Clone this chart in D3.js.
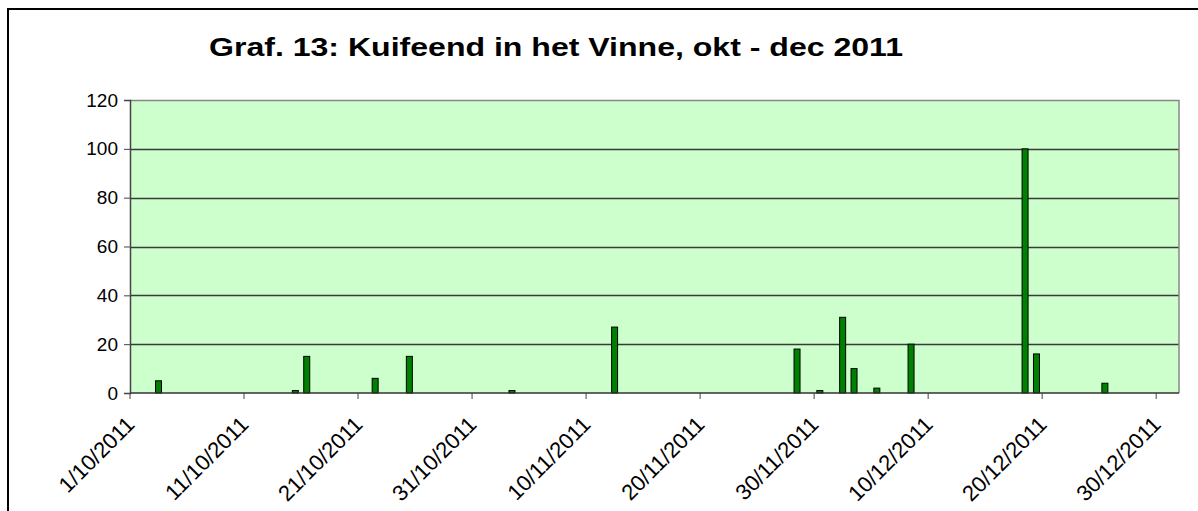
<!DOCTYPE html>
<html>
<head>
<meta charset="utf-8">
<script src="https://cdn.jsdelivr.net/npm/d3@7"></script>
<style>
  body { margin: 0; background: #fff; }
  text { font-family: Arial, "Liberation Sans", sans-serif; }
</style>
</head>
<body>
<svg width="1198" height="511"></svg>
<script>
// telling dagen (okt - dec 2011)
var obsDates = ["3/10/2011","15/10/2011","16/10/2011","22/10/2011","25/10/2011",
  "3/11/2011","12/11/2011","28/11/2011","30/11/2011","2/12/2011","3/12/2011",
  "5/12/2011","8/12/2011","18/12/2011","19/12/2011","25/12/2011"];
var obsCounts = [5,1,15,6,15,1,27,18,1,31,10,2,20,100,16,4];
var yTicks = [0,20,40,60,80,100,120];
var xTickLabels = ["1/10/2011","11/10/2011","21/10/2011","31/10/2011","10/11/2011",
  "20/11/2011","30/11/2011","10/12/2011","20/12/2011","30/12/2011"];
var titleText = "Graf. 13: Kuifeend in het Vinne, okt - dec 2011";

var parseDate = d3.timeParse("%d/%m/%Y");
var fmt = d3.timeFormat("%-d/%-m/%Y");

// alle dagen van 1 okt t/m 31 dec als categorieen
var days = d3.timeDay.range(parseDate("1/10/2011"), parseDate("1/1/2012")).map(fmt);

var data = obsDates.map(function(d, i){ return {date: d, count: obsCounts[i]}; });

var plot = {left: 130, right: 1179, top: 100, bottom: 393};

var svg = d3.select("svg");

// kader van de grafiek
svg.append("rect")
  .attr("x", 8).attr("y", 9)
  .attr("width", 1300).attr("height", 600)
  .style("fill", "#fff")
  .style("stroke", "#000")
  .style("stroke-width", 2);

var xStep = d3.scaleBand().domain(days).range([plot.left, plot.right]);
var y = d3.scaleLinear().domain([0, 120]).range([plot.bottom, plot.top]);

// achtergrond plot
svg.append("rect")
  .attr("x", plot.left).attr("y", plot.top)
  .attr("width", plot.right - plot.left).attr("height", plot.bottom - plot.top)
  .style("fill", "#CCFFCC");

// rasterlijnen
svg.append("g")
  .selectAll("line").data(yTicks.slice(1, -1)).enter().append("line")
  .attr("x1", plot.left).attr("x2", plot.right)
  .attr("y1", function(d){ return Math.round(y(d)) + 0.5; })
  .attr("y2", function(d){ return Math.round(y(d)) + 0.5; })
  .style("stroke", "#3a3a3a").style("stroke-width", 1.3);

// rand boven en rechts (grijs)
svg.append("path")
  .attr("d", "M" + plot.left + "," + (plot.top + 0.5) + "H" + plot.right + "V" + plot.bottom)
  .style("fill", "none").style("stroke", "#888").style("stroke-width", 1.5);

// staven
svg.selectAll(".bar").data(data).enter().append("rect")
  .attr("class", "bar")
  .attr("x", function(d){ return xStep(d.date) + xStep.step()/2 - 3; })
  .attr("width", 6)
  .attr("y", function(d){ return y(d.count); })
  .attr("height", function(d){ return y(0) - y(d.count); })
  .style("fill", "#008000")
  .style("stroke", "#000")
  .style("stroke-width", 1);

// y as
var yAxis = svg.append("g")
  .attr("transform", "translate(" + plot.left + ",0)")
  .call(d3.axisLeft(y).tickValues(yTicks).tickSize(6).tickPadding(6).tickFormat(d3.format("d")));
yAxis.select(".domain").style("stroke", "#444").style("stroke-width", 1.5);
yAxis.selectAll(".tick line").style("stroke", "#444");
yAxis.selectAll("text").style("font-size", "19px").style("fill", "#000");

// x as, streepje om de 10 dagen
var tickDays = xTickLabels.map(function(s){ return fmt(parseDate(s)); });
var xAxis = svg.append("g")
  .attr("transform", "translate(0," + plot.bottom + ")");
xAxis.append("line")
  .attr("x1", plot.left).attr("x2", plot.right)
  .style("stroke", "#333").style("stroke-width", 1.5);
xAxis.selectAll(".xt").data(tickDays).enter().append("line")
  .attr("class", "xt")
  .attr("x1", function(d){ return xStep(d); })
  .attr("x2", function(d){ return xStep(d); })
  .attr("y1", 0).attr("y2", 6)
  .style("stroke", "#444");
xAxis.selectAll(".xl").data(xTickLabels).enter().append("text")
  .attr("class", "xl")
  .attr("transform", function(d, i){
    return "translate(" + (xStep(tickDays[i]) - 5) + ",22) rotate(-45)";
  })
  .attr("text-anchor", "end")
  .attr("dy", "0.7em")
  .style("font-size", "22px")
  .text(function(d){ return d; });

// titel
svg.append("text")
  .attr("x", 556).attr("y", 56)
  .attr("text-anchor", "middle")
  .attr("textLength", 694)
  .attr("lengthAdjust", "spacingAndGlyphs")
  .style("font-size", "25px").style("font-weight", "bold")
  .text(titleText);
</script>
</body>
</html>
